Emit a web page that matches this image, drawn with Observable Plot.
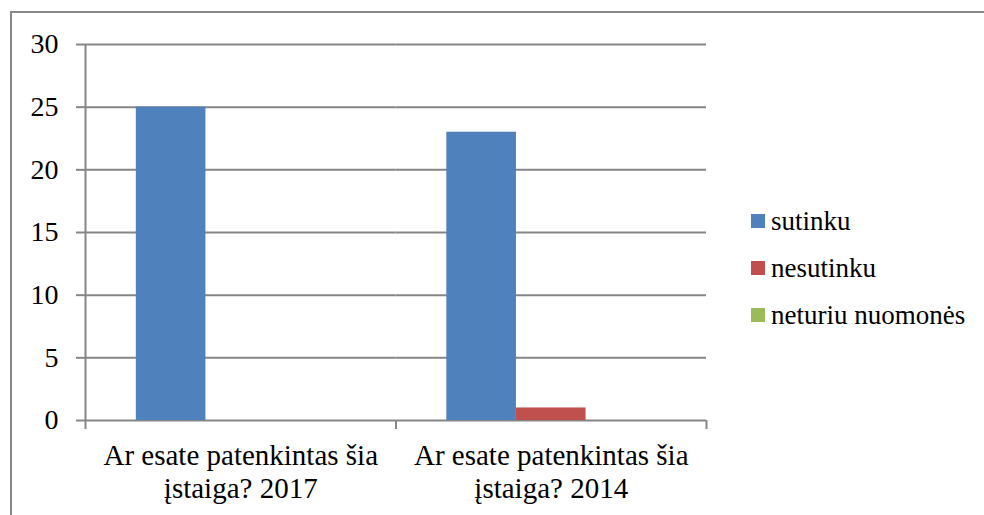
<!DOCTYPE html>
<html><head><meta charset="utf-8">
<script src="https://cdn.jsdelivr.net/npm/d3@7"></script>
<script src="https://cdn.jsdelivr.net/npm/@observablehq/plot@0.6"></script>
<style>
body{margin:0;background:#fff;}
#wrap{position:relative;width:984px;height:515px;overflow:hidden;font-family:"Liberation Serif",serif;background:#fff;}
#border{position:absolute;left:10px;top:11px;right:-5px;bottom:-5px;border-top:2px solid #888;border-left:2px solid #888;}
#chart{position:absolute;left:0;top:0;}
.lg{position:absolute;left:751px;height:40px;display:flex;align-items:center;font-family:"Liberation Serif",serif;font-size:27px;line-height:27px;color:#000;white-space:nowrap;}
.lg span.sw{display:inline-block;width:14px;height:14px;margin-right:6px;}
</style>
</head><body>
<div id="wrap"><div id="border"></div><div id="chart"></div><div id="legend"></div></div>
<script>
const categories = ["Ar esate patenkintas šia įstaiga? 2017", "Ar esate patenkintas šia įstaiga? 2014"];
const series = ["sutinku", "nesutinku", "neturiu nuomonės"];
const values2017 = [25, 0, 0];
const values2014 = [23, 1, 0];
const colors = ["#4F81BD", "#C0504D", "#9BBB59"];
const yTicks = [0, 5, 10, 15, 20, 25, 30];

const valuesByCategory = [values2017, values2014];
const data = categories.flatMap((c, ci) => series.map((s, si) => ({category: c, series: s, value: valuesByCategory[ci][si]})));

const W = 984, H = 515, mL = 85, mR = 278, mT = 44, mB = 95;
const facetW = (W - mL - mR) / categories.length;
const gray = "#868686";
const serif = "Liberation Serif";

const chart = Plot.plot({
  width: W, height: H, marginLeft: mL, marginRight: mR, marginTop: mT, marginBottom: mB,
  style: {fontFamily: serif, fontSize: "27px", color: "#000", background: "transparent", overflow: "visible"},
  fx: {domain: categories, padding: 0, label: null, round: false},
  x: {domain: series, paddingInner: 0, paddingOuter: 0.73, round: false, axis: null},
  y: {domain: [0, 30], label: null},
  color: {domain: series, range: colors},
  marks: [
    Plot.gridY(yTicks, {stroke: gray, strokeOpacity: 1, strokeWidth: 2}),
    Plot.axisY(yTicks, {tickSize: 9, tickPadding: 18, stroke: gray, strokeWidth: 2, fill: "#000", fontFamily: serif, fontSize: 28, fontVariant: "normal", label: null, tickFormat: d => String(d)}),
    Plot.barY(data, {fx: "category", x: "series", y: "value", fill: "series"}),
    Plot.ruleX([categories[0]], {fx: d => d, x: null, y1: 0, y2: 30, dx: -facetW / 2, stroke: gray, strokeWidth: 2}),
    Plot.ruleX(categories, {fx: d => d, x: null, y1: 0, y2: 0, insetBottom: -9, dx: -facetW / 2, stroke: gray, strokeWidth: 2}),
    Plot.ruleX([categories[categories.length - 1]], {fx: d => d, x: null, y1: 0, y2: 0, insetBottom: -9, dx: facetW / 2, stroke: gray, strokeWidth: 2}),
    Plot.axisFx({anchor: "bottom", tickSize: 0, tickPadding: 21, fontFamily: serif, fontSize: 29, lineHeight: 1.14, label: null, fill: "#000",
      tickFormat: d => d.replace(" įstaiga", "\nįstaiga")})
  ]
});
document.getElementById("chart").appendChild(chart);

const legend = document.getElementById("legend");
const legendCenters = [221, 268, 315];
series.forEach((s, i) => {
  const row = document.createElement("div");
  row.className = "lg";
  row.style.top = (legendCenters[i] - 20) + "px";
  const sw = document.createElement("span");
  sw.className = "sw";
  sw.style.background = colors[i];
  const t = document.createElement("span");
  t.textContent = s;
  row.appendChild(sw); row.appendChild(t);
  legend.appendChild(row);
});
</script>
</body></html>
